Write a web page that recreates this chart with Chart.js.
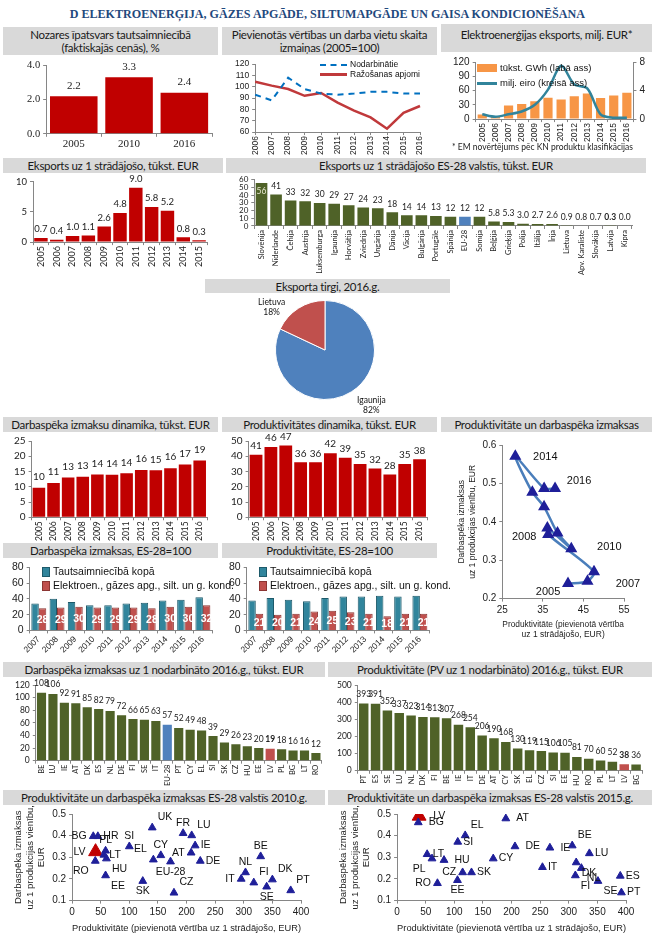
<!DOCTYPE html>
<html>
<head>
<meta charset="utf-8">
<script src="https://cdn.jsdelivr.net/npm/chart.js@4.4.1/dist/chart.umd.min.js"></script>
<style>
  body { margin: 0; width: 655px; height: 939px; background: #fff; position: relative; overflow: hidden; font-family: Lato, sans-serif; }
  .box { position: absolute; }
  .hd { position: absolute; background: #d9d9d9; color: #1a1a1a; font-size: 11.5px; letter-spacing: -0.3px; line-height: 13px;
        display: flex; align-items: center; justify-content: center; text-align: center; }
  .txt { position: absolute; white-space: nowrap; color: #111; }
  .sw { display: inline-block; vertical-align: middle; margin-right: 3px; }
  #title { position: absolute; left: 0; top: 6px; width: 655px; text-align: center; font: bold 13px 'Liberation Serif', serif; color: #1f497d; white-space: nowrap; }
</style>
</head>
<body>
<div id="title"><span id="titleText">D ELEKTROENERĢIJA, GĀZES APGĀDE, SILTUMAPGĀDE UN GAISA KONDICIONĒŠANA</span></div>
<script>
// ---------------- data ----------------
const shareYears = ['2005', '2010', '2016'];
const shareValues = [2.2, 3.3, 2.4];

const indexYears = ['2006', '2007', '2008', '2009', '2010', '2011', '2012', '2013', '2014', '2015', '2016'];
const employedIdx = [93, 88, 108, 98, 94, 93, 94, 95.5, 95.5, 94, 94];
const outputIdx = [104.5, 101, 98, 92, 94.5, 86, 79, 73, 63, 77, 83];

const exportYears = ['2005', '2006', '2007', '2008', '2009', '2010', '2011', '2012', '2013', '2014', '2015', '2016'];
const exportGWh = [0.65, 0.4, 1.9, 2.1, 2.5, 3.0, 2.75, 3.2, 3.6, 2.95, 3.3, 3.7];
const exportMEUR = [10, 5, 10, 16, 30, 62, 112, 73, 64, 10, 3, 3];

const perWorkerYears = ['2005', '2006', '2007', '2008', '2009', '2010', '2011', '2012', '2013', '2014', '2015'];
const perWorkerExport = [0.7, 0.4, 1.0, 1.1, 2.6, 4.8, 9.0, 5.8, 5.2, 0.8, 0.3];

const euCountries = ['Slovēnija', 'Nīderlande', 'Čehija', 'Austrija', 'Luksemburga', 'Igaunija', 'Horvātija', 'Zviedrija',
  'Ungārija', 'Dānija', 'Vācija', 'Bulgārija', 'Portugāle', 'Spānija', 'EU-28', 'Somija', 'Beļģija', 'Grieķija',
  'Polija', 'Itālija', 'Īrija', 'Lietuva', 'Apv. Karaliste', 'Slovākija', 'Latvija', 'Kipra'];
const euExportPerWorker = [56, 41, 33, 32, 30, 29, 27, 24, 23, 18, 14, 14, 13, 12, 12, 12, 5.8, 5.3, 3.0, 2.7, 2.6, 0.9, 0.8, 0.7, 0.3, 0.0];

const marketNames = ['Igaunija', 'Lietuva'];
const marketShares = [82, 18];

const dynYears = ['2005', '2006', '2007', '2008', '2009', '2010', '2011', '2012', '2013', '2014', '2015', '2016'];
const labourCost = [9.7, 11.2, 13.0, 13.3, 14.0, 13.9, 14.4, 15.5, 15.4, 16.1, 17.3, 18.6];
const productivity = [41, 46, 47, 36, 36, 42, 39, 35, 32, 28, 35, 38];

const pathYears = ['2005', '2006', '2007', '2008', '2009', '2010', '2011', '2012', '2013', '2014', '2015', '2016'];
const pathProd = [41.2, 46.0, 47.6, 36.3, 36.1, 42.0, 38.6, 35.3, 32.4, 28.2, 35.3, 38.0];
const pathUlc = [0.239, 0.245, 0.270, 0.367, 0.384, 0.330, 0.371, 0.439, 0.477, 0.571, 0.487, 0.487];

const idxYears = ['2007', '2008', '2009', '2010', '2011', '2012', '2013', '2014', '2015', '2016'];
const labourEconomy = [34, 40, 36, 32, 32, 34, 35, 38, 39, 42];
const labourSector = [28, 29, 30, 29, 29, 29, 28, 30, 30, 32];
const prodEconomy = [38, 41, 39, 37, 41, 43, 43, 44, 43, 44];
const prodSector = [21, 20, 21, 24, 25, 23, 21, 18, 21, 21];

const costCodes = ['BE', 'LU', 'IE', 'AT', 'DK', 'ES', 'NL', 'DE', 'FI', 'SE', 'IT', 'EU-28', 'PT', 'CY', 'EL', 'SI', 'SK', 'CZ', 'HU', 'EE', 'LV', 'PL', 'BG', 'LT', 'RO'];
const costValues = [108, 106, 92, 91, 85, 82, 79, 72, 66, 65, 63, 57, 52, 49, 48, 39, 29, 26, 23, 20, 19, 18, 16, 16, 12];

const prodCodes = ['PT', 'ES', 'SE', 'LU', 'NL', 'DK', 'FI', 'BE', 'IE', 'IT', 'DE', 'AT', 'CY', 'SK', 'EL', 'CZ', 'SI', 'EE', 'HU', 'RO', 'PL', 'LT', 'LV', 'BG'];
const prodValues = [393, 391, 352, 337, 323, 314, 313, 307, 268, 254, 206, 190, 168, 130, 119, 115, 106, 105, 81, 70, 60, 52, 38, 36];

const codes2010 = ['BG', 'HR', 'LV', 'PL', 'LT', 'HU', 'RO', 'EE', 'SI', 'SK', 'UK', 'EL', 'CY', 'EU-28', 'CZ', 'FR', 'LU', 'IE', 'AT', 'DE', 'BE', 'NL', 'IT', 'FI', 'DK', 'SE', 'PT'];
const prod2010 = [37, 45, 41, 58.5, 55.5, 60, 40.5, 58.5, 100, 123.5, 140, 142, 155, 172, 178, 194, 209, 215, 208, 224, 329.5, 303, 295.5, 317.5, 350, 340, 382];
const ulc2010 = [0.397, 0.397, 0.326, 0.330, 0.311, 0.294, 0.283, 0.216, 0.350, 0.190, 0.437, 0.289, 0.309, 0.280, 0.136, 0.411, 0.401, 0.354, 0.321, 0.283, 0.304, 0.230, 0.200, 0.183, 0.197, 0.164, 0.147];

const codes2015 = ['LV', 'BG', 'AT', 'EL', 'SI', 'LT', 'PL', 'HU', 'CY', 'DE', 'IE', 'BE', 'LU', 'DK', 'NL', 'IT', 'FI', 'SE', 'ES', 'PT', 'CZ', 'SK', 'RO', 'EE'];
const prod2015 = [38.5, 37, 190, 119, 106, 52.5, 61, 82, 168, 206, 267, 306, 336, 313, 322, 254, 311.5, 351, 390, 392, 114.5, 130, 70.5, 105.5];
const ulc2015 = [0.490, 0.461, 0.479, 0.401, 0.371, 0.314, 0.294, 0.287, 0.294, 0.350, 0.344, 0.354, 0.318, 0.276, 0.250, 0.254, 0.216, 0.190, 0.214, 0.137, 0.230, 0.230, 0.180, 0.194];

// ---------------- styles ----------------
const RED = '#c00000';
const GREEN = '#4f6228';
const EU_BLUE = '#4f81bd';
const LV_RED = '#c0504d';
const TEAL = '#31859c';
const NAVY = '#1f1f99';
const AXIS = '#868686';
const CANDARA = 'Lato';
const ARIAL = 'Liberation Sans';

// where the country tags go around the triangles
const place2010 = { BG: 'l', HR: 'r', LV: 'l', PL: 't', LT: 'r', HU: 'br', RO: 'bl', EE: 'br', SI: 't', SK: 'b', UK: 'tr',
  EL: 'tl', CY: 't', 'EU-28': 'b', CZ: 'tr', FR: 't', LU: 'tr', IE: 'r', AT: 'l', DE: 'r', BE: 't', NL: 't', IT: 'l',
  FI: 'tr', DK: 'tr', SE: 'b', PT: 'tr' };
const place2015 = { LV: 'r2', BG: 'r2', PL: 'bl', CZ: 'l', RO: 'l', EE: 'b', HU: 'r2', AT: 'r2', DE: 'r2', IE: 'r2', BE: 'tr', DK: 'br', NL: 'br', FI: 'br', SE: 'br', EL: 'tr' };
const yearTagOffsets = { '2005': [-20, 8], '2007': [34, 12], '2008': [-24, 2], '2010': [38, -2], '2014': [30, 1], '2016': [24, -7] };

Chart.defaults.animation = false;
Chart.defaults.responsive = true;
Chart.defaults.maintainAspectRatio = false;
Chart.defaults.plugins.legend.display = false;
Chart.defaults.plugins.tooltip.enabled = false;
Chart.defaults.font.family = ARIAL;
Chart.defaults.font.size = 9;
Chart.defaults.color = '#222';

// value labels on bars, configured on the raw dataset
const barTags = {
  id: 'barTags',
  afterDatasetsDraw(chart) {
    const ctx = chart.ctx;
    chart.data.datasets.forEach((ds, di) => {
      const t = ds.tags;
      if (!t) return;
      chart.getDatasetMeta(di).data.forEach((el, i) => {
        const v = ds.data[i];
        let txt;
        if (t.fmt === 'f1') txt = v.toFixed(1);
        else if (t.fmt === 'int') txt = String(Math.round(v));
        else txt = v >= 10 ? String(Math.round(v)) : v.toFixed(1);
        const insideTop = t.insideAt && t.insideAt.includes(i);
        ctx.save();
        ctx.font = ((t.boldAt && t.boldAt.includes(i)) ? 'bold ' : '') + t.font;
        ctx.textAlign = 'center';
        if (t.inside) {
          ctx.fillStyle = '#fff';
          ctx.textBaseline = 'middle';
          ctx.fillText(txt, el.x, el.y + (el.base - el.y) * 0.55);
        } else if (insideTop) {
          ctx.fillStyle = '#e8e8d0';
          ctx.textBaseline = 'top';
          ctx.fillText(txt, el.x, el.y + 4);
        } else {
          ctx.fillStyle = t.color || '#222';
          ctx.textBaseline = 'bottom';
          ctx.fillText(txt, el.x, el.y - (t.gap || 3));
        }
        ctx.restore();
      });
    });
  }
};

// names next to scatter points
const pointTags = {
  id: 'pointTags',
  afterDatasetsDraw(chart) {
    const ctx = chart.ctx;
    chart.data.datasets.forEach((ds, di) => {
      const t = ds.pointTags;
      if (!t) return;
      ctx.save();
      ctx.font = t.font;
      ctx.fillStyle = '#111';
      chart.getDatasetMeta(di).data.forEach((pt, i) => {
        const name = t.names[i];
        if (t.offsets) {
          const o = t.offsets[name];
          if (!o) return;
          ctx.textAlign = 'center';
          ctx.textBaseline = 'middle';
          ctx.fillText(name, pt.x + o[0], pt.y + o[1]);
          return;
        }
        const r = pt.options.radius || 4;
        const p = (t.place && t.place[name]) || 'r';
        let dx = 0, dy = 0;
        ctx.textAlign = 'center';
        ctx.textBaseline = 'middle';
        if (p.includes('r')) { dx = r + (p.includes('2') ? 6 : 1); ctx.textAlign = 'left'; }
        if (p.includes('l')) { dx = -(r + 2); ctx.textAlign = 'right'; }
        if (p.includes('t')) { dy = -5; ctx.textBaseline = 'bottom'; }
        if (p.includes('b')) { dy = 5; ctx.textBaseline = 'top'; }
        ctx.fillText(name, pt.x + dx, pt.y + dy);
      });
      ctx.restore();
    });
  }
};
Chart.register(barTags, pointTags);

// ---------------- helpers ----------------
function box(x, y, w, h) {
  const d = document.createElement('div');
  d.className = 'box';
  Object.assign(d.style, { left: x + 'px', top: y + 'px', width: w + 'px', height: h + 'px' });
  const c = document.createElement('canvas');
  d.appendChild(c);
  document.body.appendChild(d);
  return c;
}
function header(x, y, w, h, html, extra) {
  const d = document.createElement('div');
  d.className = 'hd';
  Object.assign(d.style, { left: x + 'px', top: y + 'px', width: w + 'px', height: h + 'px' }, extra || {});
  d.innerHTML = html;
  document.body.appendChild(d);
}
function label(x, y, html, css) {
  const d = document.createElement('div');
  d.className = 'txt';
  Object.assign(d.style, { left: x + 'px', top: y + 'px' }, css || {});
  d.innerHTML = html;
  document.body.appendChild(d);
  return d;
}
function xCat(fam, size, rot) {
  return {
    grid: { drawOnChartArea: false, tickLength: 3, color: AXIS },
    border: { color: AXIS },
    ticks: { font: { family: fam, size: size }, color: '#222', maxRotation: rot, minRotation: rot, autoSkip: false, padding: 1 }
  };
}
function yLin(min, max, step, fam, size, fmt) {
  return {
    min: min, max: max,
    grid: { drawOnChartArea: false, tickLength: 3, color: AXIS },
    border: { color: AXIS },
    ticks: { stepSize: step, autoSkip: false, font: { family: fam, size: size }, color: '#222', padding: 3, callback: fmt || (v => v) }
  };
}
const pad = (l, t, r, b) => ({ padding: { left: l, top: t, right: r, bottom: b } });
const countryColour = c => c === 'EU-28' ? EU_BLUE : (c === 'LV' ? LV_RED : GREEN);

// ---------------- headers ----------------
header(3, 27, 215, 28, 'Nozares īpatsvars tautsaimniecībā<br>(faktiskajās cenās), %');
header(222, 27, 215, 28, 'Pievienotās vērtības un darba vietu skaita<br>izmaiņas (2005=100)');
header(441, 24, 211, 28, 'Elektroenerģijas eksports, milj. EUR*', { alignItems: 'flex-start', paddingTop: '4px', height: '24px' });
header(3, 158, 220, 15, 'Eksports uz 1 strādājošo, tūkst. EUR');
header(226, 158, 420, 15, 'Eksports uz 1 strādājošo ES-28 valstīs, tūkst. EUR');
header(205, 279, 245, 14, 'Eksporta tirgi, 2016.g.');
header(3, 417, 215, 15, 'Darbaspēka izmaksu dinamika, tūkst. EUR');
header(222, 417, 215, 15, 'Produktivitātes dinamika, tūkst. EUR');
header(441, 417, 211, 15, 'Produktivitāte un darbaspēka izmaksas');
header(3, 543, 215, 15, 'Darbaspēka izmaksas, ES-28=100');
header(222, 543, 215, 15, 'Produktivitāte, ES-28=100');
header(3, 662, 322, 15, 'Darbaspēka izmaksas uz 1 nodarbināto 2016.g., tūkst. EUR');
header(328, 662, 324, 15, 'Produktivitāte (PV uz 1 nodarbināto) 2016.g., tūkst. EUR');
header(3, 790, 322, 15, 'Produktivitāte un darbaspēka izmaksas ES-28 valstīs 2010.g.');
header(328, 790, 324, 15, 'Produktivitāte un darbaspēka izmaksas ES-28 valstīs 2015.g.');

// ---------------- row 1 ----------------
new Chart(box(8, 56, 210, 96), {
  type: 'bar',
  data: { labels: shareYears, datasets: [{ data: shareValues, backgroundColor: RED, barPercentage: 0.86, categoryPercentage: 1,
    tags: { fmt: 'f1', font: '11px "Liberation Serif"', gap: 5 } }] },
  options: { layout: pad(16, 8, 6, 0),
    scales: { x: xCat('Liberation Serif', 11, 0), y: yLin(0, 4, 2, 'Liberation Serif', 10.5, v => v.toFixed(1)) } }
});

new Chart(box(226, 56, 212, 100), {
  type: 'line',
  data: { labels: indexYears, datasets: [
    { data: employedIdx, borderColor: '#0070c0', borderWidth: 2, borderDash: [6, 5], pointRadius: 0, tension: 0 },
    { data: outputIdx, borderColor: '#c0393b', borderWidth: 2.5, pointRadius: 0, tension: 0 }
  ] },
  options: { layout: pad(6, 2, 18, 0),
    scales: { x: xCat(ARIAL, 8.5, 90), y: yLin(60, 120, 10, ARIAL, 8.5) } }
});
label(320, 59, '<span class="sw" style="width:27px;border-top:2px dashed #0070c0"></span>Nodarbinātie', { font: '8.5px ' + ARIAL });
label(320, 69, '<span class="sw" style="width:27px;border-top:3px solid #c0393b"></span>Ražošanas apjomi', { font: '8.5px ' + ARIAL });

new Chart(box(446, 53, 204, 90), {
  type: 'bar',
  data: { labels: exportYears, datasets: [
    { type: 'line', data: exportMEUR, yAxisID: 'y', borderColor: '#31849b', borderWidth: 2.5, pointRadius: 0, tension: 0.3, order: 0 },
    { type: 'bar', data: exportGWh, yAxisID: 'y1', backgroundColor: '#f79646', barPercentage: 0.7, categoryPercentage: 1, order: 1 }
  ] },
  options: { layout: pad(4, 4, 2, 0),
    scales: {
      x: xCat(ARIAL, 8.5, 90),
      y: Object.assign(yLin(0, 120, 30, ARIAL, 10), { position: 'left' }),
      y1: Object.assign(yLin(0, 8, 4, ARIAL, 10), { position: 'right' })
    } }
});
label(477, 62, '<span class="sw" style="width:20px;height:8px;background:#f79646"></span>tūkst. GWh (labā ass)', { font: '9.5px ' + ARIAL });
label(477, 77, '<span class="sw" style="width:20px;border-top:3px solid #31849b"></span>milj. eiro (kreisā ass)', { font: '9.5px ' + ARIAL });
label(452, 142, '* EM novērtējums pēc KN produktu klasifikācijas', { font: '8.5px ' + CANDARA, color: '#222' });

// ---------------- row 2 ----------------
new Chart(box(5, 173, 212, 95), {
  type: 'bar',
  data: { labels: perWorkerYears, datasets: [{ data: perWorkerExport, backgroundColor: RED, barPercentage: 0.85, categoryPercentage: 1,
    tags: { fmt: 'f1', font: '9.5px ' + CANDARA, gap: 4 } }] },
  options: { layout: pad(8, 8, 10, 0),
    scales: { x: xCat(CANDARA, 9, 90), y: yLin(0, 10, 5, CANDARA, 9.5) } }
});

new Chart(box(232, 172, 420, 104), {
  type: 'bar',
  data: { labels: euCountries, datasets: [{ data: euExportPerWorker,
    backgroundColor: euCountries.map(c => c === 'EU-28' ? EU_BLUE : GREEN), barPercentage: 0.8, categoryPercentage: 1,
    tags: { fmt: 'auto', font: '8.5px ' + CANDARA, gap: 4, insideAt: [0], boldAt: [24] } }] },
  options: { layout: pad(4, 2, 20, 0),
    scales: { x: xCat(CANDARA, 7.5, 90), y: yLin(0, 60, 10, CANDARA, 8) } }
});

// ---------------- row 3: pie ----------------
new Chart(box(275, 300, 100, 100), {
  type: 'pie',
  data: { labels: marketNames, datasets: [{ data: marketShares, backgroundColor: ['#4f81bd', '#c0504d'], borderColor: '#fff', borderWidth: 1 }] },
  options: { layout: pad(0, 0, 0, 0) }
});
label(258, 297, marketNames[1] + '<br>' + marketShares[1] + '%', { font: '8.5px ' + CANDARA, textAlign: 'center', lineHeight: '10px' });
label(357, 395, marketNames[0] + '<br>' + marketShares[0] + '%', { font: '8.5px ' + CANDARA, textAlign: 'center', lineHeight: '10px' });

// ---------------- row 4 ----------------
new Chart(box(5, 432, 212, 110), {
  type: 'bar',
  data: { labels: dynYears, datasets: [{ data: labourCost, backgroundColor: RED, barPercentage: 0.86, categoryPercentage: 1,
    tags: { fmt: 'int', font: '10px ' + CANDARA, gap: 6 } }] },
  options: { layout: pad(6, 8, 10, 0),
    scales: { x: xCat(CANDARA, 8.5, 90), y: yLin(0, 25, 5, CANDARA, 10) } }
});

new Chart(box(222, 432, 213, 110), {
  type: 'bar',
  data: { labels: dynYears, datasets: [{ data: productivity, backgroundColor: RED, barPercentage: 0.86, categoryPercentage: 1,
    tags: { fmt: 'int', font: '10px ' + CANDARA, gap: 4 } }] },
  options: { layout: pad(6, 8, 8, 0),
    scales: { x: xCat(CANDARA, 8.5, 90), y: yLin(0, 50, 10, CANDARA, 10) } }
});

new Chart(box(441, 436, 209, 204), {
  type: 'scatter',
  data: { datasets: [{
    data: pathProd.map((x, i) => ({ x: x, y: pathUlc[i] })),
    showLine: true, borderColor: '#4a7ebb', borderWidth: 2.5, tension: 0.25,
    pointStyle: 'triangle', pointRadius: 4.5, pointBackgroundColor: NAVY, pointBorderColor: NAVY,
    pointTags: { names: pathYears, offsets: yearTagOffsets, font: '11px ' + ARIAL }
  }] },
  options: { layout: pad(14, 6, 26, 0),
    scales: {
      x: Object.assign(yLin(25, 55, 10, ARIAL, 10), { type: 'linear', title: { display: true, text: ['Produktivitāte (pievienotā vērtība', 'uz 1 strādājošo, EUR)'], font: { size: 8.5 }, padding: 0 } }),
      y: Object.assign(yLin(0.2, 0.6, 0.1, ARIAL, 10, v => v.toFixed(1)), { title: { display: true, text: ['Darbaspēka izmaksas', 'uz 1 produkcijas vienību, EUR'], font: { size: 8.5 }, padding: 2 } })
    } }
});

// ---------------- row 5 ----------------
function indexChart(x, economy, sector) {
  new Chart(box(x, 558, 213, 98), {
    type: 'bar',
    data: { labels: idxYears, datasets: [
      { data: economy, backgroundColor: TEAL, borderColor: '#1d5a6a', borderWidth: 1, barPercentage: 1, categoryPercentage: 0.82 },
      { data: sector, backgroundColor: '#c0504d', borderColor: '#8c3533', borderWidth: 1, barPercentage: 1, categoryPercentage: 0.82,
        tags: { inside: true, font: 'bold 10.5px ' + ARIAL } }
    ] },
    options: { layout: pad(4, 4, 6, 0),
      scales: { x: xCat(ARIAL, 8.5, 45), y: yLin(0, 80, 20, ARIAL, 10.5) } }
  });
}
indexChart(5, labourEconomy, labourSector);
indexChart(222, prodEconomy, prodSector);
const legendCss = { font: '10.5px ' + ARIAL, lineHeight: '13px' };
label(42, 565, '<span class="sw" style="width:6px;height:8px;background:' + TEAL + ';border:1px solid #1d5a6a"></span>Tautsaimniecībā kopā', legendCss);
label(42, 579, '<span class="sw" style="width:6px;height:8px;background:#c0504d;border:1px solid #8c3533"></span>Elektroen., gāzes apg., silt. un g. kond.', legendCss);
label(259, 565, '<span class="sw" style="width:6px;height:8px;background:' + TEAL + ';border:1px solid #1d5a6a"></span>Tautsaimniecībā kopā', legendCss);
label(259, 579, '<span class="sw" style="width:6px;height:8px;background:#c0504d;border:1px solid #8c3533"></span>Elektroen., gāzes apg., silt. un g. kond.', legendCss);

// ---------------- row 6 ----------------
new Chart(box(8, 677, 318, 110), {
  type: 'bar',
  data: { labels: costCodes, datasets: [{ data: costValues, backgroundColor: costCodes.map(countryColour), barPercentage: 0.8, categoryPercentage: 1,
    tags: { fmt: 'int', font: '8.5px ' + CANDARA, gap: 5, boldAt: [costCodes.indexOf('LV')] } }] },
  options: { layout: pad(4, 2, 4, 0),
    scales: { x: xCat(CANDARA, 7.5, 90), y: yLin(0, 120, 20, CANDARA, 8.5) } }
});

new Chart(box(330, 677, 320, 110), {
  type: 'bar',
  data: { labels: prodCodes, datasets: [{ data: prodValues, backgroundColor: prodCodes.map(countryColour), barPercentage: 0.8, categoryPercentage: 1,
    tags: { fmt: 'int', font: '8.5px ' + CANDARA, gap: 5, boldAt: [prodCodes.indexOf('LV')] } }] },
  options: { layout: pad(4, 2, 8, 0),
    scales: { x: xCat(CANDARA, 7.5, 90), y: yLin(0, 500, 100, CANDARA, 8.5) } }
});

// ---------------- row 7 ----------------
function countryScatter(x, codes, prod, ulc, place) {
  new Chart(box(x, 805, 322, 132), {
    type: 'scatter',
    data: { datasets: [{
      data: prod.map((v, i) => ({ x: v, y: ulc[i] })),
      pointStyle: 'triangle',
      pointRadius: codes.map(c => c === 'LV' ? 8 : 4.5),
      pointBackgroundColor: codes.map(c => c === 'LV' ? '#c00000' : NAVY),
      pointBorderColor: codes.map(c => c === 'LV' ? '#c00000' : NAVY),
      pointTags: { names: codes, place: place, font: '10.5px ' + ARIAL }
    }] },
    options: { layout: pad(6, 4, 26, 2),
      scales: {
        x: Object.assign(yLin(0, 400, 50, ARIAL, 10), { type: 'linear', title: { display: true, text: 'Produktivitāte (pievienotā vērtība uz 1 strādājošo, EUR)', font: { size: 9.5 }, padding: 1 } }),
        y: Object.assign(yLin(0.1, 0.5, 0.1, ARIAL, 10, v => v.toFixed(1)), { title: { display: true, text: ['Darbaspēka izmaksas', 'uz 1 produkcijas vienību,', 'EUR'], font: { size: 9.5 }, padding: 2 } })
      } }
  });
}
countryScatter(5, codes2010, prod2010, ulc2010, place2010);
countryScatter(330, codes2015, prod2015, ulc2015, place2015);

// fit the page title into its band
const tt = document.getElementById('titleText');
tt.style.display = 'inline-block';
const sc = 515 / tt.getBoundingClientRect().width;
tt.style.transform = 'scaleX(' + Math.min(1.2, sc).toFixed(3) + ')';
</script>
</body>
</html>
